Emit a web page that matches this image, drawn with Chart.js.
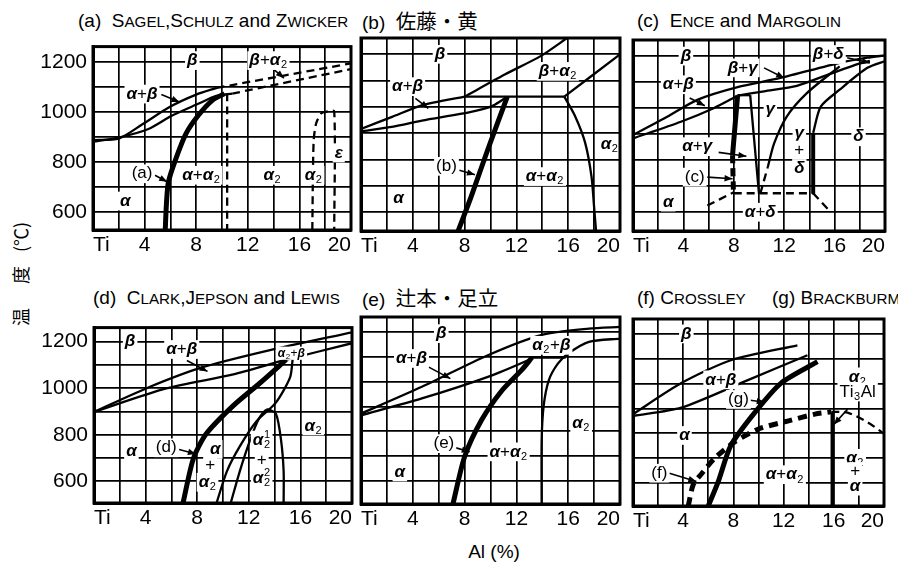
<!DOCTYPE html>
<html>
<head>
<meta charset="utf-8">
<script src="https://cdn.jsdelivr.net/npm/chart.js@4.4.1/dist/chart.umd.min.js"></script>
<style>
body{margin:0;background:#fff;width:898px;height:565px;position:relative;overflow:hidden}
canvas{position:absolute}
.ttl{position:absolute;font-family:"Liberation Sans","Noto Sans CJK JP",sans-serif;font-size:19px;line-height:1;white-space:pre;color:#000}
.ttl .s{font-size:0.8em}
.jp{font-family:"Noto Sans CJK JP",sans-serif;font-size:20.5px}
#ylab{position:absolute;left:20px;top:274px;transform:translate(-50%,-50%) rotate(-90deg);font-family:"Noto Sans CJK JP",sans-serif;font-size:18px;white-space:pre;line-height:1}
#xlab{position:absolute;left:494px;top:551px;transform:translate(-50%,-50%);font-family:"Liberation Sans",sans-serif;font-size:19px;white-space:pre;line-height:1}
</style>
</head>
<body>
<div class="ttl" style="left:78px;top:11px">(a)  S<span class="s">AGEL</span>,S<span class="s">CHULZ</span> and Z<span class="s">WICKER</span></div>
<div class="ttl" style="left:362px;top:10px">(b)  <span class="jp">佐藤・黄</span></div>
<div class="ttl" style="left:637px;top:11px">(c)  E<span class="s">NCE</span> and M<span class="s">ARGOLIN</span></div>
<div class="ttl" style="left:93px;top:288px">(d)  C<span class="s">LARK</span>,J<span class="s">EPSON</span> and L<span class="s">EWIS</span></div>
<div class="ttl" style="left:362px;top:287px">(e)  <span class="jp">辻本・足立</span></div>
<div class="ttl" style="left:637px;top:288px">(f) C<span class="s">ROSSLEY</span></div>
<div class="ttl" style="left:772px;top:288px">(g) B<span class="s">RACKBURM</span></div>
<div id="ylab"><span>温</span><span style="margin-left:24px">度</span><span style="margin-left:14px">(℃)</span></div>
<div id="xlab">Al (%)</div>

<canvas id="ca"></canvas>
<canvas id="cb"></canvas>
<canvas id="cc"></canvas>
<canvas id="cd"></canvas>
<canvas id="ce"></canvas>
<canvas id="cf"></canvas>

<script>
// ---- tick labels ----
const xTicks = {0: 'Ti', 4: '4', 8: '8', 12: '12', 16: '16', 20: '20'};
const yTicks = [600, 800, 1000, 1200];

// ---- (a) Sagel, Schulz and Zwicker ----
const aBeta = [[0,888],[2,894],[3.8,950],[6,1022],[8,1070],[9.6,1097]];
const aAlpha = [[0,882],[2,898],[4.3,932],[6.1,985],[8.2,1034],[9.5,1064],[10.8,1074]];
const aBold = [[5.6,528],[5.7,640],[5.85,721],[6.4,810],[7.2,913],[8.2,989],[9.25,1047],[10.2,1074]];
const aDashUp = [[9.6,1097],[20,1195]];
const aDashLow = [[10.8,1074],[20,1172]];
const aDashVert = [[10.4,1074],[10.4,528]];
const aEps = [[17.0,528],[17.1,880],[17.3,955],[17.7,995],[18.2,1003],[18.7,1003],[18.7,528]];
const aLabels = [['β',7.7,1206],['β+α_2',13.6,1206],['α+β',3.8,1072],['(a)',3.8,753],['α+α_2',8.4,747],
  ['α_2',13.9,747],['α_2',17.1,747],['ε',19.05,836],['α',2.5,644]];
const aArrows = [[[5.3,1070],[6.7,1040]],[[13.9,1176],[14.8,1136]],[[4.8,747],[5.75,721]]];

// ---- (b) 佐藤・黄 ----
const bBeta = [[0,916],[2.4,962],[4.7,1006],[8,1039]];
const bBetaA2 = [[8,1039],[11.1,1123],[13.9,1194],[16,1265]];
const bAlpha = [[0,907],[2.5,925],[4.7,948],[8.5,981],[10.2,1005],[11.3,1039]];
const bFlat = [[8,1039],[15.7,1039]];
const bRight = [[15.7,1039],[20,1200]];
const bA2 = [[15.7,1039],[16.5,968],[17.3,865],[17.8,735],[18,619],[18.15,528]];
const bBold = [[7.5,528],[8.5,658],[9.8,839],[11.3,1039]];
const bLabels = [['β',6.1,1200],['α+β',3.6,1077],['β+α_2',15.2,1135],['α_2',19.2,858],['(b)',6.6,774],
  ['α+α_2',14.2,735],['α',2.9,652]];
const bArrows = [[[4.2,1032],[5.2,994]],[[7.6,759],[8.8,742]]];

// ---- (c) Ence and Margolin ----
const cBeta = [[0,897],[2.5,961],[5.1,1032],[8.3,1081],[11.7,1116],[16.4,1174],[18.6,1194],[20,1203]];
const cAlphaBeta = [[0,884],[3.8,948],[6.4,1000],[8.3,1048]];
const cBetaGamma = [[8.3,1048],[10.4,1065],[13,1086],[15.7,1133],[18,1172],[18.8,1182]];
const cBold = [[8.3,1048],[7.9,819]];
const cBoldDash = [[7.9,819],[7.97,677]];
const cFlat = [[8.3,1050],[9.3,1050]];
const cGammaLeft = [[9.3,1050],[10,671]];
const cGdDash = [[10.1,671],[10.7,774]];
const cGd = [[10.7,774],[11.2,865],[12.2,968],[13.8,1058],[16.4,1161]];
const cDeltaBold = [[14.3,671],[14.3,905]];
const cDelta = [[14.3,905],[14.9,1006],[16.4,1071],[18.6,1155],[20,1181]];
const cDashH = [[8,673],[14.3,673]];
const cDashL = [[5.9,626],[8,677]];
const cDashR = [[14.3,673],[15.7,600]];
const cLabels = [['β',4.2,1200],['α+β',3.6,1090],['β+γ',8.7,1155],['β+δ',15.5,1206],['γ',10.9,994],
  ['γ',13.2,903],['+',13.2,839],['δ',13.2,768],['δ',17.9,890],['α+γ',5.1,852],['(c)',4.9,735],
  ['α',2.8,639],['α+δ',10.1,600]];
const cArrows = [[[4.5,1039],[5.7,1009]],[[10.4,1155],[12,1116]],[[17,1194],[18.8,1174]],
  [[6.8,830],[9.0,815]],[[5.9,735],[7.9,729]]];

// ---- (d) Clark, Jepson and Lewis ----
const dUpper = [[0,898],[4.3,1005],[8.2,1086],[13.4,1160],[20,1240]];
const dLower = [[0,898],[5.6,999],[10.8,1059],[14.7,1119],[20,1193]];
const dBold = [[6.9,507],[7.7,697],[8.7,804],[10.8,925],[12.8,1019],[14.9,1122]];
const dThin = [[9.5,507],[10.3,643],[11.3,750],[12.6,858],[14.1,938],[15.2,1046],[15.4,1124]];
const dDome = [[10.6,507],[11.3,643],[12.1,777],[12.8,871],[13.4,908],[14.1,890],[14.5,777],[14.7,643],[14.7,507]];
const dLabels = [['β',2.8,1200],['α+β',6.8,1166],['α_2+β',15.3,1150,12],['α',2.9,730],['(d)',5.6,744],
  ['α',9.4,737],['+',9.0,670],['α_2',8.8,596],['α_2^1',13.0,777],['+',13.0,690],['α_2^2',13.0,612],['α_2',17,838]];
const dArrows = [[[7.2,1119],[8.8,1072]],[[6.6,737],[7.9,717]]];

// ---- (e) 辻本・足立 ----
const eUpper = [[0,871],[4.7,979],[9.8,1106],[13.9,1187],[17.6,1213],[20,1220]];
const eLower = [[0,864],[4.7,932],[9.8,1019],[12.9,1086],[13.2,1097]];
const eFlat = [[13.2,1097],[15.8,1097]];
const eRight = [[13.95,507],[13.95,760],[14.1,900],[14.5,1005],[15.2,1072],[16,1113],[17.6,1160],[20,1173]];
const eBold = [[7.1,507],[8,697],[9.3,844],[10.9,965],[12.4,1046],[13.2,1097]];
const eLabels = [['β',6.2,1193],['α+β',3.9,1093],['α_2+β',14.7,1146],['α_2',17,831],['(e)',6.4,750],
  ['α+α_2',11.4,717],['α',3,636]];
const eArrows = [[[5.2,1059],[6.9,1012]],[[7.2,735],[8.4,717]]];

// ---- (f) Crossley / (g) Brackburm ----
const fUpper = [[0,877],[3.85,1002],[7.8,1094],[13.1,1154]];
const fLower = [[0,870],[3.85,903],[9.2,1015],[13.9,1114]];
const gBold = [[6,507],[6.8,606],[7.8,751],[9.7,883],[11.8,1002],[14.7,1088]];
const fDashBold = [[4.4,507],[4.8,593],[5.4,633],[6.5,699],[8.1,765],[10,817],[12.4,850],[14.5,877],[15.8,886]];
const fDashThin = [[15.8,886],[17.1,883],[18.7,844],[20,798]];
const fVert = [[15.9,507],[15.9,883]];
const fLabels = [['β',4.25,1200],['α+β',7,1015],['(g)',8.4,936],['α',4.1,791],['(f)',2.1,639],
  ['α+α_2',12.1,633],['α_2',17.7,699],['+',17.7,646],['α',17.7,587],['α_2',17.9,1027],['Ti_3Al',17.9,966]];
const fArrows = [[[9.2,934],[10.5,925]],[[2.9,639],[5.05,606]],[[17.1,897],[16.0,835]]];

// ---- helpers ----
const SANS = '"Liberation Sans", sans-serif';
const greek = /[αβγδε]/;
function fontFor(ch, size) {
  return greek.test(ch) ? 'italic bold ' + size + 'px ' + SANS : size + 'px ' + SANS;
}
function parseRich(s) {
  const out = [];
  for (let i = 0; i < s.length; i++) {
    const c = s[i];
    if (c === '_' || c === '^') {
      const t = {kind: 'script'};
      t[c === '_' ? 'sub' : 'sup'] = s[i + 1];
      i++;
      if (s[i + 1] === '_' || s[i + 1] === '^') {
        t[s[i + 1] === '_' ? 'sub' : 'sup'] = s[i + 2];
        i += 2;
      }
      out.push(t);
    } else out.push({kind: 'base', ch: c});
  }
  return out;
}
function drawRich(ctx, s, cx, cy, size) {
  const toks = parseRich(s);
  const ss = Math.round(size * 0.64);
  let w = 0;
  toks.forEach(t => {
    if (t.kind === 'base') { ctx.font = fontFor(t.ch, size); t.w = ctx.measureText(t.ch).width; }
    else { ctx.font = ss + 'px ' + SANS; t.w = Math.max(ctx.measureText(t.sub || '').width, ctx.measureText(t.sup || '').width) + 1; }
    w += t.w;
  });
  ctx.fillStyle = '#fff';
  ctx.fillRect(cx - w / 2 - 2, cy - size * 0.55, w + 4, size * 1.1);
  ctx.fillStyle = '#000';
  ctx.textBaseline = 'middle';
  ctx.textAlign = 'left';
  let x = cx - w / 2;
  toks.forEach(t => {
    if (t.kind === 'base') { ctx.font = fontFor(t.ch, size); ctx.fillText(t.ch, x, cy); }
    else {
      ctx.font = ss + 'px ' + SANS;
      if (t.sub) ctx.fillText(t.sub, x + 0.5, cy + size * 0.28);
      if (t.sup) ctx.fillText(t.sup, x + 0.5, cy - size * 0.3);
    }
    x += t.w;
  });
}
function arrow(ctx, x0, y0, x1, y1) {
  ctx.strokeStyle = '#000';
  ctx.lineWidth = 1.6;
  ctx.beginPath(); ctx.moveTo(x0, y0); ctx.lineTo(x1, y1); ctx.stroke();
  const a = Math.atan2(y1 - y0, x1 - x0), L = 8, H = 3.2;
  ctx.beginPath();
  ctx.moveTo(x1, y1);
  ctx.lineTo(x1 - L * Math.cos(a) + H * Math.sin(a), y1 - L * Math.sin(a) - H * Math.cos(a));
  ctx.lineTo(x1 - L * Math.cos(a) - H * Math.sin(a), y1 - L * Math.sin(a) + H * Math.cos(a));
  ctx.closePath(); ctx.fillStyle = '#000'; ctx.fill();
}
function makeAnnot(labels, arrows) {
  return {
    id: 'annot',
    afterDatasetsDraw(chart) {
      const {ctx, chartArea: a, scales: {x, y}} = chart;
      ctx.save();
      arrows.forEach(([p, q]) => arrow(ctx, x.getPixelForValue(p[0]), y.getPixelForValue(p[1]),
        x.getPixelForValue(q[0]), y.getPixelForValue(q[1])));
      labels.forEach(([t, vx, vy, sz]) => drawRich(ctx, t, x.getPixelForValue(vx), y.getPixelForValue(vy), sz || 17));
      ctx.lineWidth = 3; ctx.strokeStyle = '#000';
      ctx.strokeRect(a.left, a.top, a.right - a.left, a.bottom - a.top);
      ctx.restore();
    }
  };
}
function line(d, w, dash) {
  return {data: d.map(([x, y]) => ({x, y})), showLine: true, borderColor: '#000', backgroundColor: '#000',
    borderWidth: w, borderDash: dash || [], pointRadius: 0, tension: 0.25, fill: false};
}
const THIN = 2.3, BOLD = 5, DASH = [8, 5];

const padL = 60, padR = 14, padT = 8, padB = 32;
function panel(id, rect, yRange, showY, datasets, labels, arrows) {
  const cv = document.getElementById(id);
  const W = rect[2] - rect[0] + padL + padR, H = rect[3] - rect[1] + padT + padB;
  cv.width = W; cv.height = H;
  cv.style.left = (rect[0] - padL) + 'px';
  cv.style.top = (rect[1] - padT) + 'px';
  new Chart(cv, {
    type: 'scatter',
    data: {datasets},
    options: {
      responsive: false, animation: false, events: [],
      layout: {padding: {top: padT, right: padR, left: 0, bottom: 0}},
      plugins: {legend: {display: false}, tooltip: {enabled: false}},
      scales: {
        x: {type: 'linear', min: 0, max: 20,
          afterFit: s => { s.height = padB; },
          grid: {color: '#000', lineWidth: 1.7, drawTicks: false},
          border: {color: '#000', width: 3},
          ticks: {stepSize: 2, autoSkip: false, maxRotation: 0, align: 'inner', padding: 3, color: '#000',
            font: {size: 21, family: SANS}, callback: v => xTicks[v] || ''}},
        y: {type: 'linear', min: yRange[0], max: yRange[1],
          afterFit: s => { s.width = padL; },
          grid: {color: '#000', lineWidth: 1.7, drawTicks: false},
          border: {color: '#000', width: 3},
          ticks: {stepSize: 100, includeBounds: false, display: showY, padding: 6, color: '#000',
            font: {size: 21, family: SANS}, callback: v => yTicks.includes(v) ? String(v) : ''}}
      }
    },
    plugins: [makeAnnot(labels, arrows)]
  });
}

const topRange = [528, 1262], botRange = [507, 1260];

panel('ca', [93, 36, 351, 230], topRange, true, [
  line(aBeta, THIN), line(aAlpha, THIN), line(aBold, BOLD),
  line(aDashUp, THIN, DASH), line(aDashLow, THIN, DASH), line(aDashVert, THIN, DASH), line(aEps, THIN, DASH)
], aLabels, aArrows);

panel('cb', [361, 38, 620, 231], topRange, false, [
  line(bBeta, THIN), line(bBetaA2, THIN), line(bAlpha, THIN), line(bFlat, THIN), line(bRight, THIN),
  line(bA2, THIN), line(bBold, BOLD)
], bLabels, bArrows);

panel('cc', [633, 40, 885, 231], topRange, false, [
  line(cBeta, THIN), line(cAlphaBeta, THIN), line(cBetaGamma, THIN), line(cBold, BOLD), line(cBoldDash, BOLD, DASH),
  line(cFlat, THIN), line(cGammaLeft, THIN), line(cGdDash, THIN, DASH), line(cGd, THIN),
  line(cDeltaBold, 4), line(cDelta, THIN), line(cDashH, THIN, DASH), line(cDashL, THIN, DASH), line(cDashR, THIN, DASH)
], cLabels, cArrows);

panel('cd', [94, 317, 352, 503], botRange, true, [
  line(dUpper, THIN), line(dLower, THIN), line(dBold, BOLD), line(dThin, THIN), line(dDome, THIN)
], dLabels, dArrows);

panel('ce', [361, 317, 620, 504], botRange, false, [
  line(eUpper, THIN), line(eLower, THIN), line(eFlat, THIN), line(eRight, THIN), line(eBold, BOLD)
], eLabels, eArrows);

panel('cf', [633, 319, 884, 506], botRange, false, [
  line(fUpper, THIN), line(fLower, THIN), line(gBold, BOLD), line(fDashBold, BOLD, [9, 6]),
  line(fDashThin, THIN, DASH), line(fVert, 4)
], fLabels, fArrows);
</script>
</body>
</html>
